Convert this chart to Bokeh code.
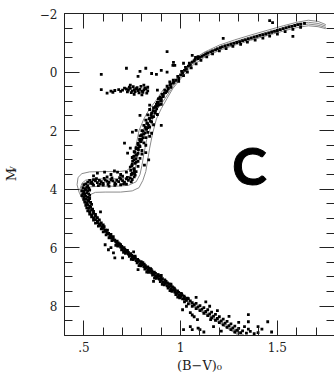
import math
from bokeh.plotting import figure
from bokeh.models import LinearAxis, SingleIntervalTicker, FixedTicker, Label, Range1d
from bokeh.embed import file_html
from bokeh.resources import INLINE

# ---- star photometry: (B-V)_0, M_V ----
turnoff = [(0.50,3.85),(0.51,3.82),(0.52,3.88),(0.495,3.95),(0.505,3.98),(0.515,3.93),(0.525,3.97),(0.49,4.05),(0.50,4.08),(0.51,4.02),(0.52,4.06),(0.53,4.03),(0.495,4.15),(0.505,4.18),(0.515,4.12),(0.525,4.16),(0.49,4.22),(0.50,4.26),(0.51,4.24),(0.52,4.28),(0.53,4.21),(0.50,4.35),(0.51,4.33),(0.52,4.38),(0.53,4.32),(0.505,4.44),(0.515,4.47),(0.525,4.42),(0.535,4.45),(0.51,4.55),(0.52,4.53),(0.53,4.58),(0.54,4.52),(0.515,4.64),(0.525,4.66),(0.535,4.62),(0.545,4.68),(0.52,4.74),(0.53,4.77),(0.54,4.72),(0.55,4.76),(0.53,4.85),(0.54,4.88),(0.55,4.83),(0.56,4.86),(0.54,4.95),(0.55,4.98),(0.56,4.93),(0.57,4.97),(0.55,5.06),(0.56,5.04),(0.57,5.09),(0.58,5.05),(0.56,5.16),(0.57,5.14),(0.58,5.19),(0.59,5.15),(0.575,5.26),(0.585,5.24),(0.595,5.29),(0.60,5.22),(0.59,5.36),(0.60,5.34),(0.61,5.39),(0.60,5.46),(0.61,5.44),(0.62,5.49),(0.615,5.56),(0.625,5.53),(0.635,5.59),(0.63,5.66),(0.64,5.63),(0.65,5.70),(0.645,5.76),(0.655,5.73),(0.665,5.80)]

main_seq = [(0.67,5.86),(0.68,5.90),(0.675,5.95),(0.69,5.98),(0.70,6.02),(0.695,6.07),(0.71,6.10),(0.72,6.14),(0.715,6.19),(0.73,6.22),(0.74,6.26),(0.735,6.30),(0.75,6.33),(0.76,6.36),(0.755,6.41),(0.77,6.44),(0.78,6.47),(0.775,6.52),(0.79,6.55),(0.80,6.58),(0.795,6.62),(0.81,6.65),(0.82,6.68),(0.815,6.73),(0.83,6.76),(0.84,6.79),(0.835,6.84),(0.85,6.86),(0.86,6.90),(0.855,6.94),(0.87,6.97),(0.88,7.00),(0.875,7.05),(0.89,7.07),(0.90,7.11),(0.895,7.16),(0.91,7.18),(0.92,7.22),(0.915,7.27),(0.93,7.30),(0.94,7.33),(0.935,7.38),(0.95,7.41),(0.96,7.44),(0.955,7.49),(0.97,7.52),(0.98,7.55),(0.975,7.60),(0.99,7.62),(1.00,7.66),(0.995,7.71),
            (0.665,5.92),(0.685,5.87),(0.705,6.16),(0.725,6.09),(0.745,6.40),(0.765,6.29),(0.785,6.61),(0.805,6.51),(0.825,6.83),(0.845,6.72),(0.865,7.04),(0.885,6.93),(0.905,7.25),(0.925,7.15),(0.945,7.47),(0.965,7.37),(0.985,7.69),(1.005,7.58),
            (0.627,6.07),(0.66,6.35),(0.653,6.18),(0.757,6.14),(0.586,4.78),(0.61,5.90),(0.64,6.00),(0.70,6.35),(0.78,6.75),(0.86,7.15),(0.90,6.95),(0.95,7.25)]

ms_fill = [(0.595,5.32),(0.605,5.28),(0.612,5.42),(0.622,5.40),(0.628,5.51),(0.64,5.55),(0.642,5.66),(0.652,5.62),(0.66,5.74),(0.672,5.78),(0.678,5.84),(0.69,5.90),(0.696,5.96),(0.708,6.00),(0.712,6.06),(0.724,6.12),(0.73,6.16),(0.742,6.20),(0.748,6.26),(0.76,6.30),(0.766,6.35),(0.778,6.40),(0.784,6.44),(0.796,6.48),(0.80,6.52),(0.812,6.56),(0.818,6.61),(0.83,6.66),(0.836,6.70),(0.848,6.74),(0.852,6.79),(0.864,6.84),(0.87,6.88),(0.882,6.92),(0.888,6.97),(0.898,7.02),(0.906,7.06),(0.918,7.10),(0.922,7.14),(0.932,7.20),(0.94,7.24),(0.95,7.30),(0.958,7.34),(0.968,7.40),(0.972,7.44),(0.984,7.48),(0.99,7.53),(1.002,7.56),(1.008,7.62),(1.018,7.66),(1.02,7.76),(1.035,7.72)]

lower_ms = [(1.01,7.75),(1.02,7.70),(1.03,7.80),(1.04,7.74),(1.02,7.85),(1.05,7.82),(1.06,7.88),(1.04,7.92),(1.07,7.95),(1.08,7.90),(1.06,8.00),(1.09,8.02),(1.10,7.98),(1.08,8.08),(1.11,8.10),(1.12,8.05),(1.10,8.15),(1.13,8.18),(1.14,8.12),(1.12,8.24),(1.15,8.26),(1.16,8.20),(1.14,8.32),(1.17,8.34),(1.18,8.28),(1.16,8.40),(1.19,8.42),(1.20,8.36),(1.18,8.48),(1.21,8.50),(1.22,8.44),(1.20,8.56),(1.23,8.58),(1.24,8.52),(1.22,8.64),(1.25,8.66),(1.26,8.60),(1.24,8.72),(1.27,8.74),(1.28,8.68),(1.26,8.80),(1.29,8.82),(1.30,8.76),(1.28,8.88),(1.31,8.90),(1.32,8.84),(1.34,8.92),(1.36,8.86),(1.38,8.94),(1.40,8.90),(1.33,8.70),(1.35,8.78),
            (1.01,8.12),(1.05,8.22),(1.087,8.46),(1.05,8.70),(1.015,8.80),(1.07,8.36),(1.10,8.80),(1.155,8.46),(1.06,8.80),(1.35,8.29),(1.45,8.53),(1.35,8.53),(1.40,8.70),(1.03,8.00),(1.06,8.30),(1.09,8.75),(1.12,8.88),(1.17,8.70),(1.21,8.85),(1.30,8.55),(1.42,8.78),(1.19,8.15),(1.25,8.35),(1.47,8.88),(1.13,7.85),(1.08,7.70),(1.15,8.00)]

subgiant = [(0.53,3.70),(0.54,3.75),(0.55,3.68),(0.56,3.72),(0.57,3.78),(0.58,3.70),(0.59,3.74),(0.60,3.80),(0.61,3.69),(0.62,3.73),(0.63,3.77),(0.64,3.68),(0.65,3.72),(0.66,3.79),(0.67,3.70),(0.68,3.74),(0.69,3.66),(0.70,3.71),(0.71,3.76),(0.72,3.65),(0.73,3.70),(0.74,3.62),(0.75,3.67),(0.76,3.58),(0.545,3.82),(0.565,3.64),(0.585,3.83),(0.605,3.63),(0.625,3.84),(0.645,3.62),(0.665,3.83),(0.685,3.61),(0.705,3.82),(0.725,3.60),(0.745,3.75),(0.765,3.52),(0.52,3.76),(0.535,3.80),(0.55,3.86),(0.575,3.88),(0.60,3.86),(0.63,3.90),(0.66,3.87),(0.69,3.85),(0.72,3.83),(0.607,3.42),(0.658,3.38),(0.674,3.42),(0.57,3.45),(0.72,3.42),(0.64,3.50),(0.69,3.50),(0.75,3.48),(0.55,3.55),(0.62,3.58),(0.70,3.56)]

lower_rgb = [(0.75,3.45),(0.77,3.40),(0.76,3.32),(0.74,3.25),(0.78,3.22),(0.75,3.15),(0.77,3.08),(0.76,3.00),(0.79,2.95),(0.75,2.92),(0.77,2.85),(0.78,2.78),(0.76,2.72),(0.80,2.68),(0.77,2.62),(0.79,2.55),(0.78,2.48),(0.81,2.42),(0.79,2.36),(0.80,2.30),(0.82,2.24),(0.79,2.18),(0.81,2.12),(0.83,2.06),(0.80,2.00),(0.82,1.94),(0.84,1.88),(0.81,1.82),(0.83,1.76),(0.85,1.70),(0.82,1.64),(0.84,1.58),(0.86,1.52),(0.83,1.46),(0.85,1.40),(0.87,1.34),(0.84,1.28),(0.86,1.22),(0.88,1.16),(0.875,1.10),(0.885,1.04),(0.90,0.98),(0.885,0.92),(0.895,0.86),(0.91,0.80),(0.915,0.72),(0.93,0.66),(0.935,0.58),(0.95,0.52),(0.945,0.45),(0.96,0.38),(0.76,3.38),(0.78,3.05),(0.80,2.80),(0.78,2.60),(0.82,2.50),(0.80,2.15),(0.84,2.20),(0.83,1.90),(0.86,1.80),(0.85,1.55),(0.88,1.45),(0.87,1.20),(0.90,1.10),(0.90,0.90),
             (0.71,2.43),(0.726,2.77),(0.813,3.18),(0.79,1.48),(0.90,1.82),(0.85,2.09),(0.751,2.05),(0.77,1.99),(0.84,1.13),(0.74,2.60),(0.82,2.75),(0.835,3.00)]

rgb_fill = [(0.745,3.50),(0.762,3.46),(0.742,3.36),(0.758,3.30),(0.748,3.20),(0.764,3.12),(0.752,3.04),(0.768,2.96),(0.758,2.88),(0.774,2.82),(0.764,2.74),(0.782,2.66),(0.77,2.58),(0.788,2.52),(0.78,2.44),(0.796,2.38),(0.788,2.30),(0.806,2.24),(0.798,2.16),(0.816,2.08),(0.806,2.02),(0.824,1.96),(0.818,1.88),(0.834,1.82),(0.826,1.74),(0.844,1.68),(0.838,1.60),(0.854,1.54),(0.848,1.46),(0.866,1.40),(0.858,1.32),(0.876,1.26),(0.87,1.18),(0.888,1.12),(0.88,1.04),(0.898,0.98),(0.892,0.90),(0.91,0.84),(0.904,0.76),(0.922,0.70),(0.918,0.62),(0.936,0.56),(0.93,0.48),(0.948,0.42),(0.944,0.34),(0.962,0.28)]

upper_rgb = [(0.965,0.35),(0.975,0.28),(0.99,0.22),(0.985,0.15),(1.00,0.10),(1.01,0.04),(1.005,-0.02),(1.02,-0.06),(1.03,-0.10),(1.025,-0.16),(1.04,-0.20),(1.05,-0.24),(1.045,-0.30),(1.06,-0.34),(1.07,-0.38),(1.075,-0.43),(1.09,-0.46),(1.10,-0.50),(1.11,-0.54),(1.12,-0.58),(1.13,-0.62),(1.14,-0.65),(1.155,-0.69),(1.165,-0.72),(1.18,-0.76),(1.19,-0.79),(1.205,-0.83),(1.215,-0.86),(1.23,-0.89),(1.245,-0.92),(1.26,-0.95),(1.275,-0.98),(1.29,-1.01),(1.305,-1.04),(1.32,-1.07),(1.335,-1.10),(1.35,-1.13),(1.365,-1.16),(1.38,-1.19),(1.395,-1.22),(1.41,-1.25),(1.425,-1.28),(1.44,-1.30),(1.455,-1.33),(1.47,-1.36),(1.485,-1.39),(1.50,-1.42),(1.515,-1.45),(1.53,-1.48),(1.545,-1.51),(1.56,-1.54),(1.575,-1.56),(1.59,-1.59),(1.605,-1.62),(1.62,-1.64),(1.64,-1.66),
             (0.99,0.32),(1.015,0.12),(1.035,0.00),(1.055,-0.14),(1.08,-0.28),(1.105,-0.40),(1.135,-0.52),(1.165,-0.62),(1.20,-0.72),(1.235,-0.80),(1.27,-0.88),(1.31,-0.95),(1.345,-1.02),(1.385,-1.09),(1.425,-1.16),(1.46,-1.23),(1.50,-1.30),(1.54,-1.38),(1.58,-1.46),(1.62,-1.53),
             (1.22,-1.15),(1.46,-1.76),(1.58,-1.22),(1.06,-0.57),(1.09,-0.53),(0.97,-0.23),(1.015,-0.30),(0.93,-0.70),(0.963,-0.33),(1.077,-0.50),(1.475,-1.69)]

clump = [(0.72,0.58),(0.73,0.62),(0.74,0.56),(0.75,0.65),(0.76,0.60),(0.77,0.57),(0.78,0.63),(0.79,0.59),(0.80,0.66),(0.81,0.61),(0.82,0.57),(0.83,0.64),(0.725,0.68),(0.745,0.70),(0.765,0.67),(0.785,0.71),(0.805,0.69),(0.825,0.72),(0.735,0.52),(0.755,0.50),(0.775,0.53),(0.795,0.49),(0.815,0.54),(0.70,0.62),(0.69,0.66),(0.68,0.60),(0.66,0.63),(0.65,0.69),(0.64,0.65),(0.62,0.72),(0.59,0.60),(0.74,0.45),(0.81,0.45),(0.80,0.78),(0.76,0.76),(0.71,0.55),(0.83,0.52),
         (0.59,0.08),(0.72,-0.13),(0.79,-0.02),(0.82,-0.13),(0.78,0.15),(0.85,0.05),(0.875,0.08),(0.90,-0.06),(0.93,0.00),(0.96,-0.23),(0.88,0.62)]

# ---- isochrones ----
iso_a_x = [1.30,1.085,0.95,0.825,0.695,0.595,0.54,0.50,0.475,0.465,0.47,0.49,0.53,0.60,0.68,0.72,0.735,0.75,0.76,0.77,0.785,0.81,0.84,0.87,0.91,0.96,1.00,1.06,1.12,1.20,1.28,1.36,1.45,1.53,1.60,1.66,1.71,1.75]
iso_a_y = [9.0,8.1,7.45,6.75,6.05,5.35,4.85,4.45,4.1,3.85,3.6,3.47,3.41,3.40,3.40,3.37,3.3,3.1,2.8,2.5,2.0,1.6,1.25,1.0,0.6,0.38,0.05,-0.40,-0.67,-0.92,-1.10,-1.26,-1.43,-1.58,-1.70,-1.77,-1.73,-1.62]
iso_b_x = [1.31,1.09,0.955,0.83,0.70,0.60,0.55,0.51,0.49,0.48,0.49,0.51,0.56,0.64,0.71,0.75,0.765,0.775,0.785,0.805,0.83,0.86,0.89,0.93,0.96,1.00,1.06,1.12,1.20,1.28,1.36,1.45,1.53,1.60,1.66,1.71,1.75]
iso_b_y = [9.0,8.1,7.45,6.75,6.05,5.35,4.9,4.55,4.25,4.0,3.8,3.69,3.65,3.65,3.63,3.52,3.3,3.0,2.6,2.0,1.6,1.25,1.0,0.6,0.44,0.11,-0.34,-0.61,-0.86,-1.04,-1.20,-1.37,-1.52,-1.64,-1.70,-1.66,-1.57]
iso_c_x = [1.32,1.095,0.96,0.835,0.705,0.605,0.56,0.525,0.505,0.50,0.51,0.535,0.59,0.67,0.73,0.77,0.79,0.80,0.81,0.825,0.84,0.855,0.88,0.91,0.94,0.96,1.00,1.06,1.12,1.20,1.28,1.36,1.45,1.53,1.60,1.66,1.71,1.75]
iso_c_y = [9.0,8.1,7.45,6.75,6.05,5.35,4.92,4.6,4.35,4.15,4.0,3.92,3.9,3.9,3.87,3.75,3.5,3.2,2.8,2.3,2.0,1.6,1.25,1.0,0.7,0.50,0.17,-0.28,-0.55,-0.80,-0.98,-1.14,-1.31,-1.46,-1.58,-1.64,-1.60,-1.52]
iso_d_x = [1.33,1.10,0.965,0.84,0.71,0.61,0.575,0.545,0.53,0.525,0.535,0.56,0.61,0.69,0.75,0.785,0.805,0.82,0.83,0.84,0.855,0.875,0.90,0.93,0.96,1.00,1.06,1.12,1.20,1.28,1.36,1.45,1.53,1.60,1.66,1.71,1.75]
iso_d_y = [9.0,8.1,7.45,6.75,6.05,5.38,4.98,4.7,4.48,4.3,4.18,4.11,4.1,4.1,4.06,3.95,3.7,3.4,3.0,2.6,2.1,1.6,1.25,0.9,0.56,0.23,-0.22,-0.49,-0.74,-0.92,-1.08,-1.25,-1.40,-1.52,-1.58,-1.55,-1.48]

x_tick_labels = {0.5: ".5", 1.0: "1", 1.5: "1.5"}
y_tick_labels = {-2: "\u22122", 0: "0", 2: "2", 4: "4", 6: "6", 8: "8"}
y_title_sub = {3.22: "V"}

FONT = "DejaVu Serif"

p = figure(width=334, height=375, x_range=Range1d(0.4, 1.795), y_range=Range1d(9, -2),
           output_backend="svg", toolbar_location=None,
           min_border_left=64, min_border_right=0, min_border_top=13, min_border_bottom=39)
p.grid.visible = False
p.outline_line_color = None
p.background_fill_color = "white"
p.border_fill_color = "white"

def style_axis(ax, ticker, labels, show_labels=True, show_line=True):
    ax.ticker = ticker
    ax.major_tick_in = 15
    ax.major_tick_out = 0
    ax.minor_tick_in = 8
    ax.minor_tick_out = 0
    ax.major_tick_line_color = "#222222"
    ax.minor_tick_line_color = "#222222"
    ax.axis_line_color = "#222222" if show_line else None
    if show_labels:
        ax.major_label_overrides = labels
        ax.major_label_text_font = FONT
        ax.major_label_text_font_size = "12px"
        ax.major_label_text_color = "#222222"
        ax.major_label_standoff = 6
    else:
        ax.major_label_text_font_size = "0px"
        ax.major_label_standoff = 0
        ax.major_label_text_color = None

bottom = p.xaxis[0]
left = p.yaxis[0]
style_axis(bottom, SingleIntervalTicker(interval=0.5, num_minor_ticks=5), x_tick_labels)
style_axis(left, SingleIntervalTicker(interval=2, num_minor_ticks=4), y_tick_labels)
left.major_label_standoff = 7

bottom.axis_label = "(B\u2212V)\u2080"
left.axis_label = "M"
for ax in (bottom, left):
    ax.axis_label_text_font = FONT
    ax.axis_label_text_font_size = "13px"
    ax.axis_label_text_font_style = "normal"
    ax.axis_label_text_color = "#222222"
bottom.axis_label_standoff = 3
left.axis_label_standoff = 18

top = LinearAxis()
style_axis(top, SingleIntervalTicker(interval=0.5, num_minor_ticks=5), {}, show_labels=False)
p.add_layout(top, "above")
right = LinearAxis()
style_axis(right, SingleIntervalTicker(interval=2, num_minor_ticks=4), {}, show_labels=False, show_line=False)
p.add_layout(right, "right")

# subscript "V" of the y-axis title: a tick-less outer axis whose one label sits over the "M"
sub_axis = LinearAxis(ticker=FixedTicker(ticks=list(y_title_sub.keys()), minor_ticks=[]),
                      major_label_overrides=y_title_sub, axis_line_color=None,
                      major_tick_line_color=None, minor_tick_line_color=None,
                      major_tick_in=0, major_tick_out=0, minor_tick_in=0, minor_tick_out=0,
                      major_label_text_font=FONT, major_label_text_font_size="8px",
                      major_label_text_color="#222222", major_label_standoff=-12,
                      major_label_orientation=math.pi / 2)
p.add_layout(sub_axis, "left")

for ix, iy in ((iso_a_x, iso_a_y), (iso_b_x, iso_b_y), (iso_c_x, iso_c_y), (iso_d_x, iso_d_y)):
    p.line(ix, iy, line_color="#8a8a8a", line_width=1)

for grp in (turnoff, main_seq, ms_fill, lower_ms, subgiant, lower_rgb, rgb_fill, upper_rgb, clump):
    gx = [a for a, b in grp]
    gy = [b for a, b in grp]
    p.scatter(gx, gy, marker="square", size=2.8, fill_color="black", line_color=None)

p.add_layout(Label(x=1.356, y=3.18, text="C", text_font="Lato", text_font_style="bold",
                   text_font_size="52px", text_align="center", text_baseline="middle",
                   text_color="black", text_outline_color="black"))

open("out.html", "w").write(file_html(p, INLINE))
